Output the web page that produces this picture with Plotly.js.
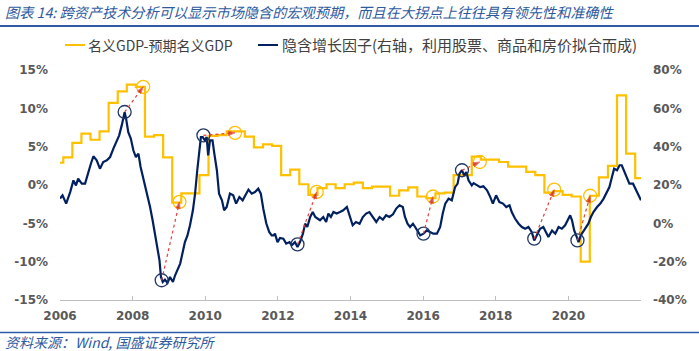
<!DOCTYPE html>
<html><head><meta charset="utf-8">
<script src="https://cdn.plot.ly/plotly-3.0.1.min.js"></script>
<style>html,body{margin:0;padding:0;background:#fff}#chart{width:699px;height:351px}</style>
</head><body><div id="chart"></div>
<script>
// ---- data ----
const xTickVals = [2006, 2008, 2010, 2012, 2014, 2016, 2018, 2020];
const xTickText = ['2006', '2008', '2010', '2012', '2014', '2016', '2018', '2020'];
const leftTickVals = [-15, -10, -5, 0, 5, 10, 15];
const leftTickText = ['-15%', '-10%', '-5%', '0%', '5%', '10%', '15%'];
const rightTickVals = [-40, -20, 0, 20, 40, 60, 80];
const rightTickText = ['-40%', '-20%', '0%', '20%', '40%', '60%', '80%'];

// 名义GDP-预期名义GDP (left axis, %), quarterly steps
const gdpStart = 2006.0;
const gdpFirstStep = 2006.09;
const gdpEnd = 2022.0;
const gdpGap = [2.9, 3.6, 5.5, 6.7, 5.9, 7.0, 10.7, 12.2, 13.1, 12.8,
  6.3, 6.5, 3.6, -2.3, -1.1, -1.1, 1.3, 6.4, 6.5, 7.0,
  7.0, 6.3, 4.9, 5.3, 5.1, 1.3, 2.0, 0.1, -1.3, -0.4,
  0.1, -0.4, 0.1, 0.3, -0.4, -0.2, -0.2, -1.4, -0.7, -0.3,
  -1.5, -1.7, -1.1, -1.0, 1.3, 1.3, 3.7, 3.3, 3.3, 3.0,
  2.4, 2.4, 1.7, 1.3, -1.0, -0.8, -1.3, -1.5, -10.0, -1.4,
  1.0, 2.5, 11.7, 4.1, 0.9];

// 隐含增长因子 (right axis, %)
const blueX = [
  2006.00,2006.07,2006.17,2006.28,2006.37,2006.44,2006.50,2006.60,2006.69,2006.75,2006.85,2006.92,
  2007.01,2007.10,2007.19,2007.29,2007.38,2007.47,2007.56,2007.63,2007.70,2007.78,2007.82,2007.88,2007.95,
  2008.02,2008.09,2008.16,2008.22,2008.31,2008.41,2008.48,2008.55,2008.62,2008.68,2008.74,2008.78,2008.83,2008.89,2008.96,
  2009.03,2009.11,2009.17,2009.23,2009.31,2009.38,2009.44,2009.51,2009.58,2009.66,2009.72,2009.78,2009.84,2009.88,2009.93,2009.99,
  2010.04,2010.08,2010.13,2010.20,2010.25,2010.32,2010.38,2010.46,2010.52,2010.59,2010.68,2010.77,2010.85,2010.94,
  2011.03,2011.10,2011.19,2011.28,2011.37,2011.46,2011.53,2011.60,2011.68,2011.76,2011.83,2011.88,2011.92,2011.99,
  2012.06,2012.15,2012.23,2012.32,2012.38,2012.47,2012.54,2012.61,2012.69,2012.75,2012.81,2012.89,2012.96,
  2013.03,2013.09,2013.16,2013.25,2013.33,2013.39,2013.46,2013.53,2013.62,2013.71,2013.80,2013.90,2013.97,
  2014.06,2014.15,2014.25,2014.34,2014.43,2014.52,2014.61,2014.71,2014.80,2014.89,2014.98,
  2015.07,2015.17,2015.26,2015.35,2015.44,2015.50,2015.57,2015.64,2015.72,2015.78,2015.84,2015.92,
  2016.01,2016.10,2016.19,2016.28,2016.38,2016.47,2016.54,2016.61,2016.70,2016.79,2016.88,2016.95,
  2017.00,2017.07,2017.13,2017.19,2017.25,2017.34,2017.39,2017.48,2017.57,2017.66,2017.76,2017.85,2017.92,
  2018.01,2018.10,2018.20,2018.29,2018.38,2018.44,2018.53,2018.63,2018.72,2018.81,2018.90,2018.99,
  2019.06,2019.13,2019.22,2019.31,2019.39,2019.45,2019.55,2019.64,2019.73,2019.82,2019.91,2019.99,
  2020.05,2020.10,2020.16,2020.23,2020.28,2020.34,2020.42,2020.49,2020.55,2020.62,2020.69,2020.79,2020.88,2020.97,
  2021.06,2021.13,2021.20,2021.26,2021.34,2021.41,2021.47,2021.54,2021.61,2021.68,2021.78,2021.84,2021.93,2022.00];
const blueY = [
  12.9,14.6,10.3,16.3,22.4,19.8,23.3,20.7,20.7,25,31.1,35,
  32.9,28.5,32,32.9,34.6,39,43.3,45.9,51.1,58,54.6,47.6,44.2,
  38.1,34.6,36.4,29.4,22.4,15.5,8.5,1.6,-5.4,-12.4,-19.3,-28,-30.6,-29.4,-31.1,
  -28,-30.6,-27.1,-24.5,-21,-15,-9.8,-6.3,-1,6.8,15.5,27.7,38.1,45,45,43.3,
  45,35.5,43.3,43.3,36.4,27.7,15.5,12,6.8,8.5,15.5,14.6,10.3,13.7,
  12,14.6,17.6,15.5,16.3,18.1,15.5,7.5,0,-4.5,-6.3,-6.3,-5.4,-9.8,
  -7.6,-8,-10.6,-9.8,-11.5,-9.8,-12.4,-9.8,-5.4,-0.2,-1.9,3.3,5.9,
  3.3,2.5,1.6,3.3,0.7,5.1,3.3,5.9,5.1,5.9,6.8,8.5,4.2,
  -1,0.7,-0.2,3.3,5.1,5.9,3.3,0.7,3.3,1.9,4.2,
  3.3,4.7,7.7,9.4,8.5,3.3,-0.2,-1.9,-0.2,-1.9,-3.7,-6.3,
  -5.4,-3.7,-4.5,-5.4,-5.4,-1.9,5.1,10.3,12.9,12,18.9,20.7,
  25.9,27.7,25,26.8,22.4,19.8,21,19.8,18.9,19.3,17.2,13.7,10.3,
  14.6,11.1,10.3,8.5,9.4,5.9,2.5,-0.2,-1.9,-2.8,-1.9,-4.5,
  -8.9,-6.3,-2.8,-1.9,-4.5,-7.1,-3.7,-5.4,-1.9,-2.8,-1,1.6,
  4.2,1.6,-3.7,-7.1,-9.8,-6.3,-3.7,-1.9,-0.2,3.3,5.9,8.5,10.3,12.9,
  16.3,18.9,24.2,28.5,27.7,30.3,30.3,26.8,23.3,20.7,20.7,18.1,14.6,12];

// turning points: implied factor (right axis) -> GDP gap (left axis)
const turnBlueX = [2007.78, 2008.80, 2009.95, 2012.54, 2016.01, 2017.07, 2019.06, 2020.25];
const turnBlueY = [58.1, -29.7, 45.9, -11.0, -5.4, 27.7, -8.0, -8.9];
const turnGdpX = [2008.29, 2009.29, 2010.82, 2013.07, 2016.27, 2017.56, 2019.61, 2020.60];
const turnGdpY = [12.8, -2.2, 6.8, -0.9, -1.5, 3.0, -0.6, -1.4];

// ---- build ----
const LEFT = [-15, 15], RIGHT = [-40, 80];
function leftToRight(v) { return RIGHT[0] + (v - LEFT[0]) * (RIGHT[1] - RIGHT[0]) / (LEFT[1] - LEFT[0]); }

const gdpX = [gdpStart];
for (let k = 0; k < gdpGap.length - 1; k++) gdpX.push(gdpFirstStep + 0.25 * k);
gdpX.push(gdpEnd);
const gdpY = gdpGap.concat([gdpGap[gdpGap.length - 1]]);

const YEL = '#FFC000', NAVY = '#002060';
const traces = [];
traces.push({x: gdpX, y: gdpY, type: 'scatter', mode: 'lines', line: {color: YEL, width: 2.2, shape: 'hv'}, yaxis: 'y', showlegend: false});
traces.push({x: turnGdpX, y: turnGdpY, type: 'scatter', mode: 'markers', marker: {symbol: 'circle-open', size: 13, color: YEL, line: {width: 1.3, color: YEL}}, yaxis: 'y', showlegend: false});
traces.push({x: blueX, y: blueY, type: 'scatter', mode: 'lines', line: {color: NAVY, width: 2.2}, yaxis: 'y2', showlegend: false});
traces.push({x: turnBlueX, y: turnBlueY, type: 'scatter', mode: 'markers', marker: {symbol: 'circle-open', size: 13, color: '#1F3864', line: {width: 1.3, color: '#1F3864'}}, yaxis: 'y2', showlegend: false});
for (let i = 0; i < turnBlueX.length; i++) {
  traces.push({
    x: [turnBlueX[i], turnGdpX[i]],
    y: [turnBlueY[i], leftToRight(turnGdpY[i])],
    type: 'scatter', mode: 'lines+markers', yaxis: 'y2', showlegend: false,
    line: {color: '#E8403A', width: 1.2, dash: 'dot'},
    marker: {symbol: 'arrow', size: [0, 7], color: '#C00000', angleref: 'previous'}
  });
}

const W = 699, H = 351, ML = 60, MR = 58, MT = 70, MB = 51;
const PW = W - ML - MR, PH = H - MT - MB;
function px2x(px) { return (px - ML) / PW; }
function py2y(py) { return (H - MB - py) / PH; }

const tickFont = {family: 'DejaVu Sans', size: 12, color: '#595959', weight: 'bold'};
const cjk = '"Noto Sans CJK SC", "Noto Sans", sans-serif';
const layout = {
  width: W, height: H,
  margin: {l: ML, r: MR, t: MT, b: MB, pad: 0},
  paper_bgcolor: '#fff', plot_bgcolor: '#fff',
  showlegend: false,
  xaxis: {
    range: [2006, 2022], tickvals: xTickVals, ticktext: xTickText,
    ticks: 'inside', ticklen: 4, tickcolor: '#BFBFBF', tickwidth: 1,
    showline: true, linecolor: '#BFBFBF', linewidth: 1,
    showgrid: false, zeroline: false, tickfont: tickFont, ticklabelstandoff: 5
  },
  yaxis: {
    range: LEFT, tickvals: leftTickVals, ticktext: leftTickText,
    showgrid: false, zeroline: false, showline: false, ticks: '',
    tickfont: tickFont, ticklabelstandoff: 11
  },
  yaxis2: {
    range: RIGHT, tickvals: rightTickVals, ticktext: rightTickText,
    overlaying: 'y', side: 'right',
    showgrid: false, zeroline: false, showline: false, ticks: '',
    tickfont: tickFont, ticklabelstandoff: 11
  },
  shapes: [
    {type: 'line', xref: 'paper', yref: 'paper', x0: px2x(0), x1: px2x(W), y0: py2y(26), y1: py2y(26), line: {color: '#2F5BA6', width: 2}},
    {type: 'line', xref: 'paper', yref: 'paper', x0: px2x(0), x1: px2x(W), y0: py2y(332.5), y1: py2y(332.5), line: {color: '#2F5BA6', width: 1.5}},
    {type: 'line', xref: 'paper', yref: 'paper', x0: px2x(65), x1: px2x(85), y0: py2y(45), y1: py2y(45), line: {color: YEL, width: 2}},
    {type: 'line', xref: 'paper', yref: 'paper', x0: px2x(258), x1: px2x(278), y0: py2y(45), y1: py2y(45), line: {color: NAVY, width: 2}}
  ],
  annotations: [
    {text: '图表 14: 跨资产技术分析可以显示市场隐含的宏观预期，而且在大拐点上往往具有领先性和准确性', xref: 'paper', yref: 'paper', x: px2x(3), y: py2y(12), xanchor: 'left', yanchor: 'middle', showarrow: false, font: {family: cjk, size: 14.2, color: '#2E5AA0', style: 'italic'}},
    {text: '名义GDP-预期名义GDP', xref: 'paper', yref: 'paper', x: px2x(86), y: py2y(45), xanchor: 'left', yanchor: 'middle', showarrow: false, font: {family: cjk, size: 14, color: '#404040'}},
    {text: '隐含增长因子(右轴，利用股票、商品和房价拟合而成)', xref: 'paper', yref: 'paper', x: px2x(280), y: py2y(45), xanchor: 'left', yanchor: 'middle', showarrow: false, font: {family: cjk, size: 15, color: '#404040'}},
    {text: '资料来源：Wind, 国盛证券研究所', xref: 'paper', yref: 'paper', x: px2x(3), y: py2y(342), xanchor: 'left', yanchor: 'middle', showarrow: false, font: {family: cjk, size: 14, color: '#2E5AA0', style: 'italic'}}
  ]
};

Plotly.newPlot('chart', traces, layout, {staticPlot: true, displayModeBar: false});
</script>
</body></html>
